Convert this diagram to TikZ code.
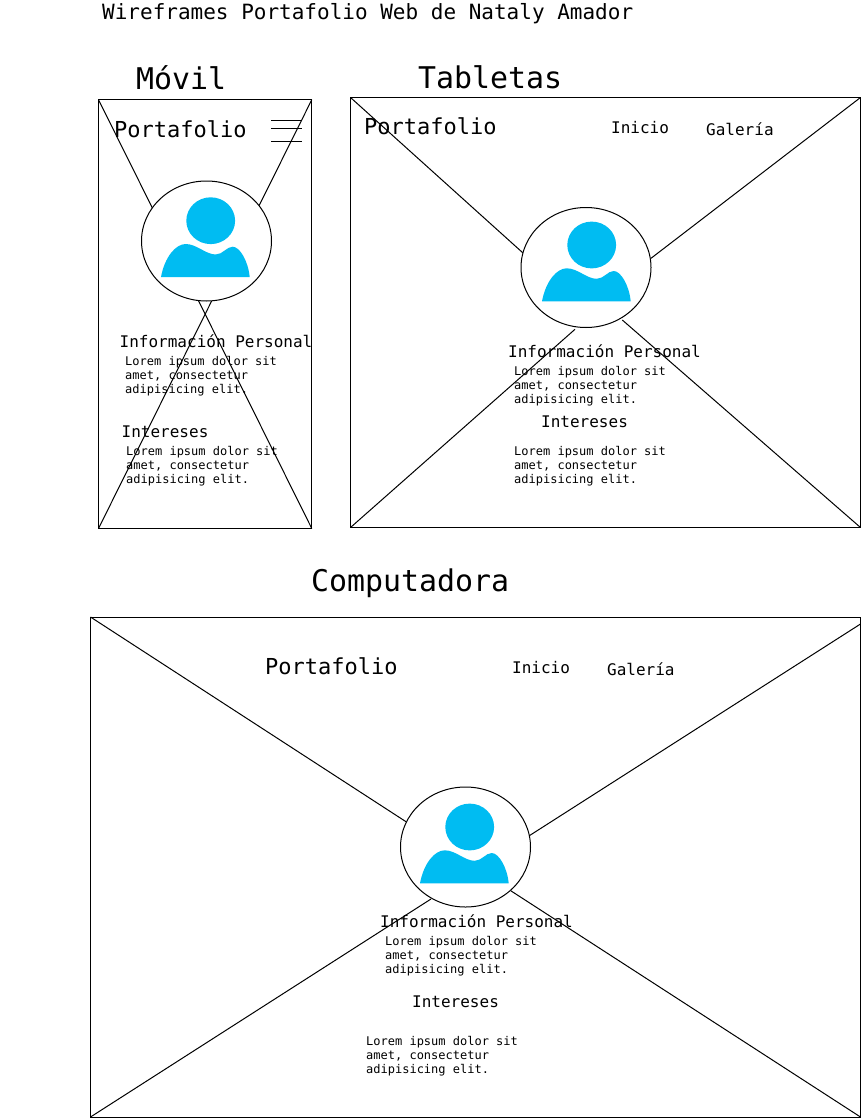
\documentclass[tikz,border=0pt]{standalone}
\usepackage{fontspec}
\setmonofont{DejaVu Sans Mono}
\renewcommand{\familydefault}{\ttdefault}
\newcommand{\lorem}{Lorem ipsum dolor sit\\amet, consectetur\\adipisicing elit.}
\definecolor{iconblue}{RGB}{0,188,242}
\usetikzlibrary{shapes.geometric}
\tikzset{
  wire/.style={draw=black,line width=1pt},
  frame/.style={wire,fill=white,inner sep=0pt,outer sep=0pt,anchor=north west},
  avatar/.style={wire,fill=white,ellipse,inner sep=0pt,outer sep=0pt,minimum width=130pt,minimum height=120pt},
  txt/.style={anchor=west,inner sep=0pt,text=black},
  title/.style={txt,font=\fontsize{29.9}{32}\ttfamily},
  brand/.style={txt,font=\fontsize{22}{24}\ttfamily},
  heading/.style={txt,font=\fontsize{16}{18}\ttfamily},
  body/.style={txt,align=left,font=\fontsize{12}{14}\selectfont\ttfamily},
}
\newcommand{\person}[2]{%
  \fill[iconblue] (#1+4,#2-20.3) ellipse [x radius=24.4,y radius=23.4];
  \fill[iconblue] (#1-45.7,#2+36) .. controls (#1-42,#2+16) and (#1-31,#2+3) .. (#1-21,#2+3)
    .. controls (#1-10,#2+3) and (#1-1,#2+13.5) .. (#1+9,#2+13.5)
    .. controls (#1+16,#2+13.5) and (#1+20,#2+5.7) .. (#1+26,#2+5.7)
    .. controls (#1+33,#2+5.7) and (#1+41.5,#2+20) .. (#1+43,#2+36) -- cycle;
}
\begin{document}
\begin{tikzpicture}[x=1pt,y=-1pt]
\useasboundingbox (0,0) rectangle (862,1119);
\node[txt,font=\fontsize{21}{24}\ttfamily] (main) at (102,13.5) {Wireframes Portafolio Web de Nataly Amador};
\node[title] (tm) at (136,77.5) {Móvil};
\node[title] (tt) at (418,77.5) {Tabletas};
\node[title] (tc) at (311,583) {Computadora};
% Movil
\node[frame,minimum width=213.3pt,minimum height=428.8pt] (fm) at (98.5,99.7) {};
\draw[wire] (fm.north west) -- (fm.south east);
\draw[wire] (fm.north east) -- (fm.south west);
\node[avatar] (am) at (206.5,241) {};
\person{206.7}{241}
\coordinate (m1a) at (271.3,120.3); \coordinate (m1b) at (301.7,120.3);
\coordinate (m2a) at (271.3,128.7); \coordinate (m2b) at (301.7,128.7);
\coordinate (m3a) at (271.3,141.3); \coordinate (m3b) at (301.7,141.3);
\draw[wire] (m1a) -- (m1b); \draw[wire] (m2a) -- (m2b); \draw[wire] (m3a) -- (m3b);
\node[brand] (pm) at (114,129) {Portafolio};
\node[heading] (im) at (119.5,341.5) {Información Personal};
\node[body] (lm1) at (125,376) {\lorem};
\node[heading] (nm) at (121.5,432) {Intereses};
\node[body] (lm2) at (126,466) {\lorem};
% Tableta
\node[frame,minimum width=510pt,minimum height=430pt] (ft) at (350.5,97.5) {};
\node[avatar] (at) at (586,267.5) {};
\coordinate (t1) at (522.7,252.7); \coordinate (t2) at (651,258.3); \coordinate (t3) at (575,329.3); \coordinate (t4) at (622.3,320);
\draw[wire] (ft.north west) -- (t1);
\draw[wire] (ft.north east) -- (t2);
\draw[wire] (ft.south west) -- (t3);
\draw[wire] (ft.south east) -- (t4);
\person{587.7}{265.3}
\node[brand] (pt) at (364,126) {Portafolio};
\node[heading] (it1) at (611,127.5) {Inicio};
\node[heading] (gt) at (706,129.5) {Galería};
\node[heading] (ipt) at (508,351.5) {Información Personal};
\node[body] (lt1) at (514,386) {\lorem};
\node[heading] (nt) at (541,422) {Intereses};
\node[body] (lt2) at (514,466) {\lorem};
% Computadora
\node[frame,minimum width=770pt,minimum height=500pt] (fc) at (90.5,617) {};
\node[avatar] (ac) at (465.5,847) {};
\coordinate (c0) at (860.5,624);
\coordinate (c1) at (406,821.7); \coordinate (c2) at (529.3,835.7); \coordinate (c3) at (431,899); \coordinate (c4) at (510.7,890.7);
\draw[wire] (fc.north west) -- (c1);
\draw[wire] (c0) -- (c2);
\draw[wire] (fc.south west) -- (c3);
\draw[wire] (fc.south east) -- (c4);
\person{465.7}{847.3}
\node[brand] (pc) at (265,666) {Portafolio};
\node[heading] (ic) at (512,667.5) {Inicio};
\node[heading] (gc) at (607,669.5) {Galería};
\node[heading] (ipc) at (380,921.5) {Información Personal};
\node[body] (lc1) at (385,956) {\lorem};
\node[heading] (nc) at (412,1002) {Intereses};
\node[body] (lc2) at (366,1056) {\lorem};
\end{tikzpicture}
\end{document}
